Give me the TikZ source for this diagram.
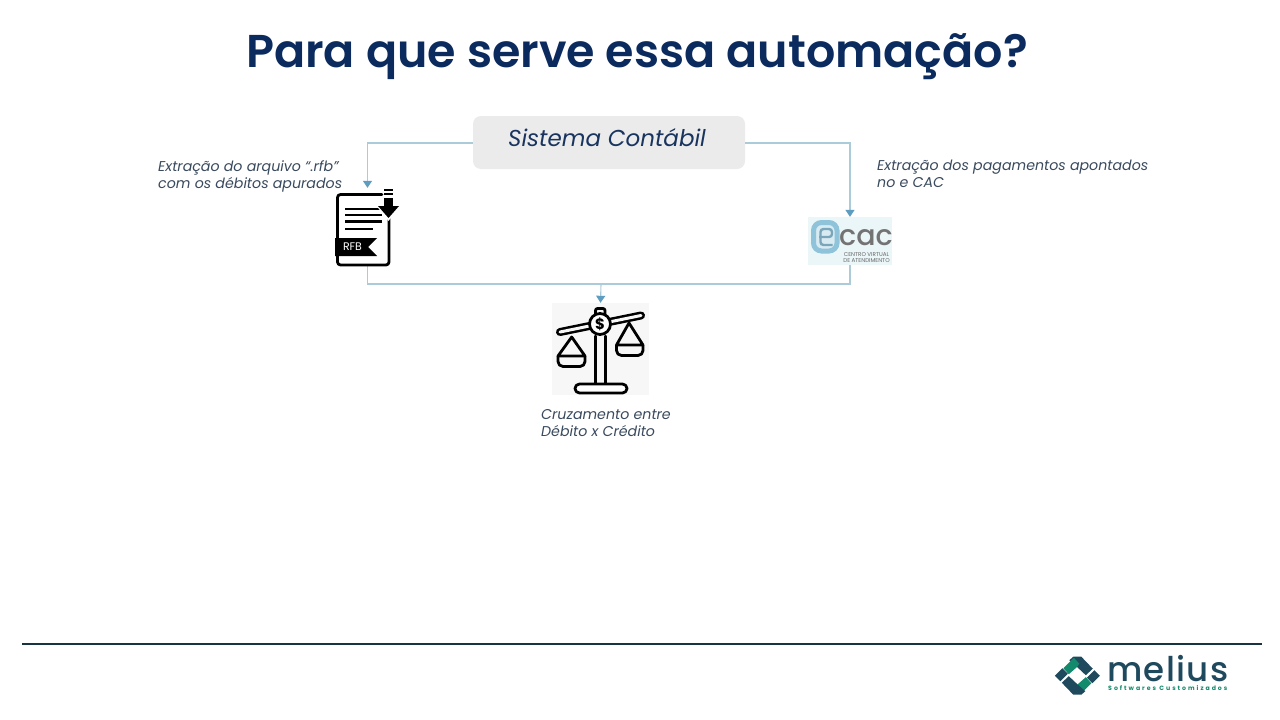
\documentclass[tikz,border=0pt]{standalone}
\usepackage{fontspec}
\setmainfont{Poppins}
\newfontfamily\titlefont{Poppins SemiBold}
\newfontfamily\logofont{Poppins Medium}
\usetikzlibrary{arrows.meta}
\definecolor{navy}{HTML}{0B2A5E}
\definecolor{inktext}{HTML}{3A4A5E}
\definecolor{linkline}{HTML}{ABCBD9}
\definecolor{linktip}{HTML}{5E9CC0}
\definecolor{meliusdark}{HTML}{1F4A5E}
\definecolor{meliusgreen}{HTML}{138A6C}
\definecolor{ecacblue}{HTML}{8FC3DA}
\definecolor{ecacback}{HTML}{EBF6F9}
\tikzset{
	link/.style={draw=linkline, line width=1.1pt},
	linkarrow/.style={link, -{Triangle[length=7pt,width=9pt,color=linktip]}},
	note/.style={align=left, anchor=north west, inner sep=0pt, font=\fontsize{14.2}{17}\selectfont\itshape, text=inktext},
	iconbox/.style={inner sep=0pt, minimum width=#1},
	icon/.style={line width=2.8pt, line join=round, line cap=round, draw=black},
}
\newcommand{\bookline}[3]{\draw[black, line width=2.8pt] (#1,#3) -- (#2,#3);}
\begin{document}
\begin{tikzpicture}[x=1pt,y=-1pt]
	\useasboundingbox (0,0) rectangle (1280,720);
	\fill[white] (0,0) rectangle (1280,720);

	\node (title) at (637,56.5) {\fontsize{46}{50}\selectfont\titlefont\color{navy}Para que serve essa automação?};

	% boxes
	\node (sistema) [fill=black!8, rounded corners=8pt, inner sep=0pt, minimum width=272pt, minimum height=53pt] at (609,142.5) {};
	\node (sistemaText) at (607,138) {\fontsize{23}{26}\selectfont\itshape\color{navy!70!inktext}Sistema Contábil};
	\node (rfb) [iconbox=63pt, minimum height=78pt] at (367.5,227) {};
	\node (ecac) [iconbox=84pt, minimum height=48pt, fill=ecacback] at (850,241) {};
	\node (balanca) [iconbox=97pt, minimum height=92pt, fill=black!3] at (600.5,349) {};
	\coordinate (juncao) at (601,284);

	% texts
	\node (notaRfb) [note] at (158,160) {Extração do arquivo “.rfb”\\com os débitos apurados};
	\node (notaEcac) [note] at (877,160) {Extração dos pagamentos apontados\\no e CAC};
	\node (notaBalanca) [note] at (541,409) {Cruzamento entre\\Débito x Crédito};

	% connectors
	\draw[linkarrow] (sistema.west |- 0,143) -| (rfb.north);
	\draw[linkarrow] (sistema.east |- 0,143) -| (ecac.north);
	\draw[link] (rfb.south) |- (juncao) -| (ecac.south);
	\draw[linkarrow] (juncao) -- (balanca.north);

	% rfb icon
	\draw[icon, rounded corners=3pt] (382,194.5) -- (337.5,194.5) -- (337.5,265) -- (389,265) -- (389,217);
	\bookline{345}{382}{209}
	\bookline{345}{382}{215}
	\bookline{345}{382}{221.5}
	\bookline{345}{373}{229}
	\fill[white] (375,204) -- (402,204) -- (388.5,221) -- cycle;
	\fill[black] (384,188.5) rectangle (393,190.5);
	\fill[black] (384,192.5) rectangle (393,195);
	\fill[black] (384,198) rectangle (393,207);
	\fill[black] (378,206) -- (399,206) -- (388.5,218) -- cycle;
	\fill[black] (335,238) -- (377,238) -- (368,247) -- (377,256) -- (335,256) -- cycle;
	\node (rfbText) at (352.5,247) {\fontsize{11}{11}\selectfont\color{white}RFB};

	% ecac icon
	\draw[ecacblue, fill=ecacblue!35, line width=5pt, rounded corners=8pt] (813.5,222.5) rectangle (837,251);
	\draw[ecacblue!85!black, line width=2.4pt, rounded corners=3pt] (819,237) -- (832,237) -- (832,229) -- (820.5,229) -- (820.5,245) -- (832.5,245);
	\node (cacText) [anchor=base] at (866,245) {\fontsize{28.5}{29}\selectfont\logofont\color{black!55}cac};
	\node (cacSub) [align=center, inner sep=0pt, text=black!60, font=\fontsize{5.6}{6}\selectfont] at (866.5,257.5) {CENTRO VIRTUAL\\DE ATENDIMENTO};

	% balance icon
	\draw[black, line width=8pt, line cap=round] (560,332) -- (641,315.5);
	\draw[black!3, line width=3pt, line cap=round] (560,332) -- (641,315.5);
	\draw[icon, rounded corners=2pt] (595.5,315) -- (595.5,308.5) -- (605,308.5) -- (605,315);
	\draw[icon, fill=white] (600,324) circle (10.5);
	\node (dollar) at (600,324) {\fontsize{15}{15}\selectfont\bfseries\$};
	\draw[icon] (595.5,336) -- (595.5,383) (605.5,336) -- (605.5,383);
	\draw[icon, rounded corners=4.5pt, fill=white] (575,384) rectangle (627,393);
	\draw[icon] (558,356) -- (571.7,337) -- (585,356) -- cycle;
	\draw[icon, rounded corners=5pt] (558,356) -- (558,366.5) -- (585,366.5) -- (585,356);
	\draw[icon] (616.5,345) -- (629,323) -- (643,345) -- cycle;
	\draw[icon, rounded corners=5pt] (616.5,345) -- (616.5,355.5) -- (643,355.5) -- (643,345);

	% footer
	\draw[meliusdark!70!black, line width=2pt] (22,643.5) -- (1262,643.5);
	\foreach \a in {0,180}{
		\begin{scope}[shift={(1077.3,675.7)}, rotate=\a]
		\fill[meliusdark] (-8,-15.5) -- (-4,-19) -- (4,-19) -- (15.5,-7) -- (8.5,-0.5) -- (0,-8.5) -- cycle;
		\fill[meliusdark] (17,-5.5) -- (22.5,0) -- (15,7.5) -- (9.5,2) -- cycle;
		\fill[meliusgreen] (8.5,1.5) -- (14,7.5) -- (3.5,18) -- (-2,12) -- (0.5,8.5) -- cycle;
		\end{scope}
	}
	\node (meliusText) [anchor=base west, inner sep=0pt] at (1107,681.7) {\fontsize{34}{34}\selectfont\logofont\addfontfeature{LetterSpace=4}\color{meliusdark}melius};
	\node (meliusSub) [anchor=base west, inner sep=0pt] at (1108,690.5) {\fontsize{6.2}{7}\selectfont\bfseries\addfontfeature{LetterSpace=32}\color{meliusgreen}Softwares Customizados};
\end{tikzpicture}
\end{document}
